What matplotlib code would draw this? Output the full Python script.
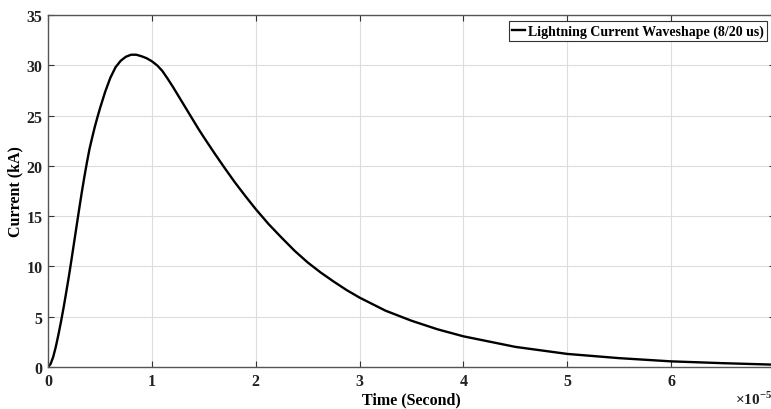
import matplotlib
matplotlib.use("Agg")
import matplotlib.pyplot as plt

# time in units of 1e-5 s, current in kA
time_e5 = [0.0, 0.025, 0.05, 0.075, 0.1, 0.125, 0.15, 0.175, 0.2, 0.225,
           0.25, 0.275, 0.3, 0.325, 0.35, 0.375, 0.4, 0.425, 0.45, 0.475,
           0.5, 0.55, 0.6, 0.65, 0.7, 0.75, 0.8, 0.85, 0.9, 0.95,
           1.0, 1.05, 1.1, 1.15, 1.2, 1.25, 1.3, 1.35, 1.4, 1.45, 1.5,
           1.6, 1.7, 1.8, 1.9, 2.0, 2.125, 2.25, 2.375, 2.5, 2.625, 2.75,
           2.875, 3.0, 3.25, 3.5, 3.75, 4.0,
           4.5, 5.0, 5.5, 6.0, 6.5, 7.0]
current_ka = [0.0, 0.3, 1.0, 2.0, 3.2, 4.5, 5.9, 7.4, 8.95, 10.6,
              12.3, 14.0, 15.7, 17.35, 18.9, 20.35, 21.7, 22.8, 23.85, 24.8,
              25.7, 27.35, 28.75, 29.8, 30.45, 30.85, 31.05, 31.05, 30.9, 30.7,
              30.4, 30.0, 29.45, 28.7, 27.9, 27.05, 26.2, 25.35, 24.5, 23.65, 22.85,
              21.3, 19.8, 18.35, 17.0, 15.7, 14.2, 12.85, 11.55, 10.4, 9.4, 8.5,
              7.65, 6.9, 5.6, 4.6, 3.75, 3.05,
              2.0, 1.3, 0.88, 0.56, 0.38, 0.23]

x_ticks = [0, 1, 2, 3, 4, 5, 6, 7]
y_ticks = [0, 5, 10, 15, 20, 25, 30, 35]

plt.rcParams['font.family'] = ['Liberation Serif', 'DejaVu Serif']
plt.rcParams['font.weight'] = 'bold'
plt.rcParams['mathtext.fontset'] = 'custom'
plt.rcParams['mathtext.rm'] = 'Liberation Serif:bold'

fig = plt.figure(figsize=(7.71, 4.10), dpi=100)
ax = fig.add_axes([48 / 771, 42 / 410, 727 / 771, 352 / 410])

ax.plot(time_e5, current_ka, color='black', linewidth=1.7,
        solid_joinstyle='round', label='Lightning Current Waveshape (8/20 us)')

ax.set_xlim(0, 7)
ax.set_ylim(0, 35)
ax.set_xticks(x_ticks)
ax.set_yticks(y_ticks)
ax.tick_params(direction='in', length=4, width=0.8, colors='#333333',
               labelsize=11.5, top=True, right=True, pad=4)
for lab in ax.get_xticklabels() + ax.get_yticklabels():
    lab.set_fontweight('bold')
    lab.set_color('#222222')

for sp in ax.spines.values():
    sp.set_color('#555555')
    sp.set_linewidth(1.0)

ax.grid(True, color='#dddddd', linewidth=0.8)
ax.set_axisbelow(True)

ax.set_xlabel('Time (Second)', fontsize=11.5, fontweight='bold', labelpad=2)
ax.set_ylabel('Current (kA)', fontsize=11.5, fontweight='bold', labelpad=2)

fig.text(735 / 771, 2 / 410, r'$\times10^{-5}$', fontsize=11, color='#222222',
         ha='left', va='bottom')

leg = ax.legend(loc='upper right', bbox_to_anchor=(767 / 771, 1 - 22 / 410),
                bbox_transform=fig.transFigure, fancybox=False, framealpha=1,
                edgecolor='#333333', fontsize=10, handlelength=0.9,
                handletextpad=0.2, borderpad=0.25, borderaxespad=0)
for t in leg.get_texts():
    t.set_fontweight('bold')
leg.get_frame().set_linewidth(0.8)

fig.savefig('out.png', dpi=100)
